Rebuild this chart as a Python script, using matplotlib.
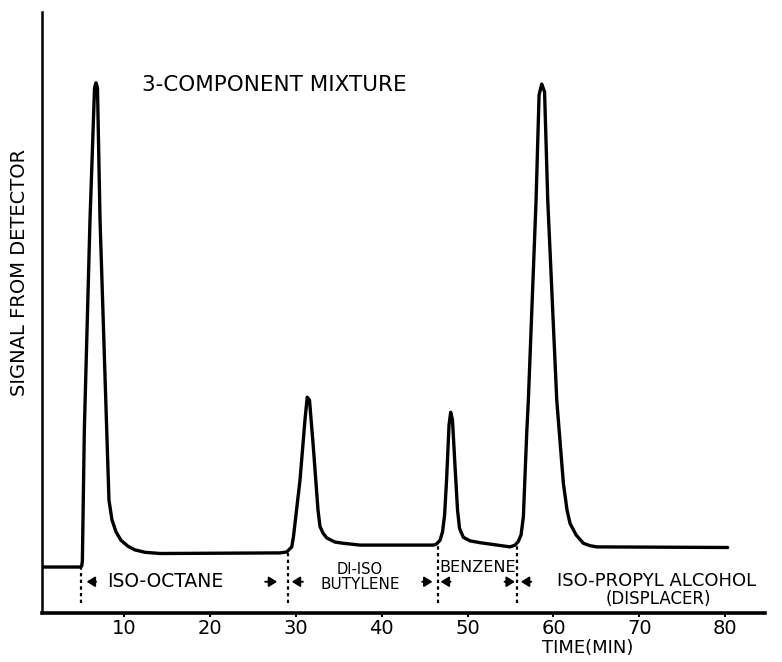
import matplotlib
matplotlib.use("Agg")
import matplotlib.pyplot as plt
import numpy as np

# Detector trace (time in minutes, signal in arbitrary units)
time_min = [0.4, 4.85, 5.02, 5.10, 5.33, 5.99, 6.52, 6.69, 6.86, 7.16, 7.94, 8.20, 8.55,
            9.02, 9.60, 10.42, 11.23, 12.40, 14.15, 28.13, 28.91, 29.50, 29.70, 30.46,
            31.04, 31.30, 31.57, 32.01, 32.56, 32.79, 33.14, 33.57, 34.54, 35.51, 37.46,
            46.00, 46.31, 46.78, 47.07, 47.31, 47.54, 47.83, 48.02, 48.23, 48.53, 48.82,
            49.05, 49.49, 50.28, 51.44, 54.94, 55.52, 55.90, 56.22, 56.49, 56.88, 57.07,
            57.97, 58.32, 58.63, 58.96, 59.33, 60.38, 61.15, 61.58, 61.93, 62.63, 63.48,
            64.26, 65.04, 80.30]
signal = [7.65, 7.65, 7.8, 8.6, 30.4, 65.4, 87.4, 88.2, 87.4, 65.4, 30.4, 18.8, 15.5,
          13.5, 12.1, 11.1, 10.5, 10.1, 9.9, 10.0, 10.15, 11.0, 12.7, 22.1,
          32.1, 35.9, 35.4, 27.7, 17.1, 14.4, 13.3, 12.5, 11.8, 11.6, 11.3,
          11.3, 11.4, 12.1, 13.5, 16.3, 22.1, 31.3, 33.4, 32.1, 24.3, 17.1,
          14.1, 12.6, 12.0, 11.7, 11.0, 11.3, 11.9, 13.0, 16.0, 29.9, 35.4,
          68.7, 86.2, 88.0, 86.7, 68.7, 35.4, 21.6, 17.1, 14.9, 13.0, 11.6,
          11.2, 11.0, 10.9]

separator_times = [5.0, 29.1, 46.5, 55.8]
x_ticks = [10, 20, 30, 40, 50, 60, 70, 80]
x_tick_labels = ["10", "20", "30", "40", "50", "60", "70", "80"]
title_text = "3-COMPONENT MIXTURE"
y_label = "SIGNAL FROM DETECTOR"
x_label = "TIME(MIN)"

plt.rcParams['font.family'] = ['DejaVu Sans']

fig = plt.figure(figsize=(7.82, 6.62), dpi=100)
ax = fig.add_axes([0.0533, 0.074, 0.925, 0.908])

ax.plot(time_min, signal, color='black', lw=2.4,
        solid_joinstyle='round', solid_capstyle='round')

for t in separator_times:
    top = np.interp(t, time_min, signal)
    ax.plot([t, t], [1.66, top], color='black', lw=1.6, ls=(0, (1.5, 1.5)))

ax.set_xlim(0.36, 84.65)
ax.set_ylim(0, 100)
ax.set_xticks(x_ticks)
ax.set_xticklabels(x_tick_labels)
ax.set_yticks([])
ax.tick_params(axis='x', length=3, width=1.5, pad=1.5, labelsize=14, direction='out')

for s in ['top', 'right']:
    ax.spines[s].set_visible(False)
ax.spines['left'].set_linewidth(1.8)
ax.spines['bottom'].set_linewidth(2.6)

# Title inside plot
ax.text(12.0, 87.9, title_text, fontsize=15.5, ha='left', va='center')

# Axis labels
fig.text(20 / 782, 1 - 272 / 662, y_label, rotation=90, fontsize=14,
         ha='center', va='center')
ax.text(64.0, -5.8, x_label, fontsize=13, ha='center', va='center', clip_on=False)


def arrow(t_from, t_to, y=5.2):
    ax.annotate("", xy=(t_to, y), xytext=(t_from, y),
                arrowprops=dict(arrowstyle='-|>,head_length=0.4,head_width=0.25',
                                color='black', lw=1.4, shrinkA=0, shrinkB=0,
                                mutation_scale=12))


# Component band labels
arrow(6.7, 5.6)
ax.text(7.94, 5.2, "ISO-OCTANE", fontsize=13.5, ha='left', va='center')
arrow(26.4, 27.8)
arrow(30.8, 29.5)
ax.text(37.45, 7.25, "DI-ISO", fontsize=10.5, ha='center', va='center')
ax.text(37.5, 4.75, "BUTYLENE", fontsize=11, ha='center', va='center')
arrow(44.7, 45.9)
arrow(48.0, 46.85)
ax.text(51.15, 7.5, "BENZENE", fontsize=11.5, ha='center', va='center')
arrow(54.3, 55.5)
arrow(57.4, 56.2)
ax.text(60.4, 5.4, "ISO-PROPYL ALCOHOL", fontsize=13, ha='left', va='center',
        clip_on=False)
ax.text(72.2, 2.35, "(DISPLACER)", fontsize=12, ha='center', va='center')

fig.savefig("out.png", dpi=100)
